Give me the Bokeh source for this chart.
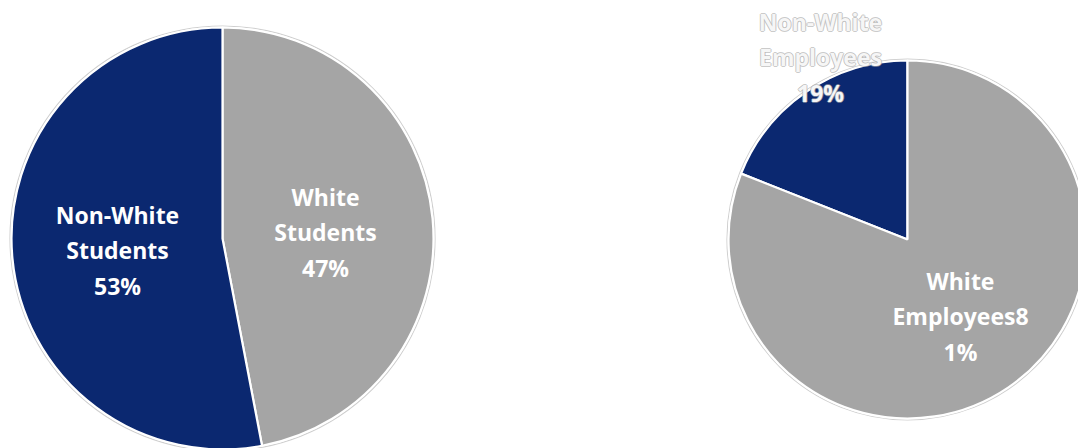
import math
from bokeh.plotting import figure
from bokeh.models import Range1d, ColumnDataSource
from bokeh.core.properties import value
from bokeh.embed import file_html
from bokeh.resources import INLINE

# ---- data ----
student_categories = ["White Students", "Non-White Students"]
student_values = [47, 53]
student_labels = ["White\nStudents\n47%", "Non-White\nStudents\n53%"]

employee_categories = ["Non-White Employees", "White Employees"]
employee_values = [19, 81]
employee_labels = ["Non-White\nEmployees\n19%", "White\nEmployees8\n1%"]

colors_students = ["#a5a5a5", "#0b2870"]
colors_employees = ["#0b2870", "#a5a5a5"]

W, H = 1078, 448
p = figure(width=W, height=H, output_backend="svg", toolbar_location=None,
           x_range=Range1d(0, W), y_range=Range1d(0, H), min_border=0)
p.axis.visible = False
p.grid.visible = False
p.outline_line_color = None
p.background_fill_color = "white"
p.border_fill_color = "white"

FONT = value("Open Sans")
FS = "23px"
LH = 1.12


def pie(cx, cy, r, vals, cols, clockwise, label_pos, labels, label_colors):
    total = float(sum(vals))
    starts, ends = [], []
    a = math.pi / 2
    for v in vals:
        d = 2 * math.pi * v / total
        if clockwise:
            starts.append(a - d); ends.append(a); a -= d
        else:
            starts.append(a); ends.append(a + d); a += d
    # outer faint outline
    p.circle(x=[cx], y=[cy], radius=r + 1.5, fill_color=None,
             line_color="#cfcfcf", line_width=1.2)
    src = ColumnDataSource(dict(x=[cx] * len(vals), y=[cy] * len(vals),
                                s=starts, e=ends, c=cols))
    p.wedge(x="x", y="y", radius=r, start_angle="s", end_angle="e",
            fill_color="c", line_color="white", line_width=2.2, source=src)
    for (lx, ly), t, col in zip(label_pos, labels, label_colors):
        if col == "ghost":
            for dx, dy in [(-1, 0), (1, 0), (0, 1), (0, -1)]:
                p.text(x=[lx + dx], y=[ly + dy], text=[t], text_font=FONT,
                       text_font_size=FS, text_font_style="bold",
                       text_color="#a8a8a8", text_alpha=0.6, text_align="center",
                       text_baseline="middle", text_line_height=LH)
            p.text(x=[lx], y=[ly], text=[t], text_font=FONT,
                   text_font_size=FS, text_font_style="bold",
                   text_color="#f6f6f6", text_align="center",
                   text_baseline="middle", text_line_height=LH)
        else:
            p.text(x=[lx], y=[ly], text=[t], text_font=FONT,
                   text_font_size=FS, text_font_style="bold",
                   text_color=col, text_align="center",
                   text_baseline="middle", text_line_height=LH)


# students pie (y measured upward)
pie(222, H - 238, 211, student_values, colors_students, True,
    [(325, H - 232), (117, H - 250)], student_labels, ["white", "white"])

# employees pie
pie(907, H - 239, 179, employee_values, colors_employees, False,
    [(820, H - 57), (960, H - 316)], employee_labels, ["ghost", "white"])

open("out.html", "w").write(file_html(p, INLINE))
